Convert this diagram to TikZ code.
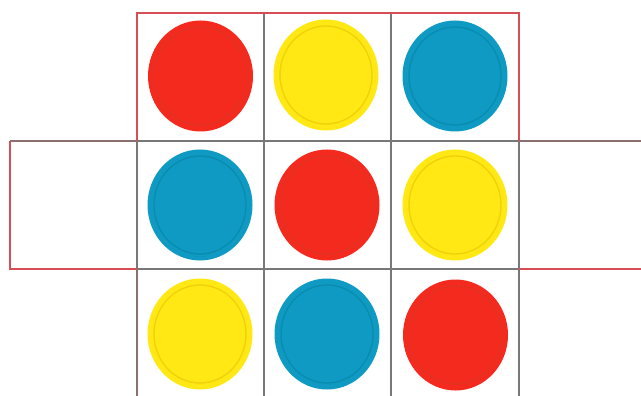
\documentclass[tikz,border=0pt]{standalone}
\usetikzlibrary{shapes.geometric}
\definecolor{cred}{RGB}{244,42,30}
\definecolor{credr}{RGB}{226,50,34}
\definecolor{cyel}{RGB}{255,232,20}
\definecolor{cyelr}{RGB}{240,210,10}
\definecolor{cblu}{RGB}{14,154,194}
\definecolor{cblur}{RGB}{10,140,176}
\definecolor{gridgray}{RGB}{120,120,120}
\definecolor{frame}{RGB}{214,78,86}
\definecolor{mixed}{RGB}{140,112,112}
\begin{document}
\begin{tikzpicture}[x=1pt,y=-1pt,
  disc/.style={ellipse, minimum width=105pt, minimum height=111pt, inner sep=0pt},
  discR/.style={disc, fill=cred, path picture={\draw[credr, line width=1.4pt] (path picture bounding box.center) ellipse (46pt and 49pt);}},
  discY/.style={disc, fill=cyel, path picture={\draw[cyelr, line width=1.4pt] (path picture bounding box.center) ellipse (46pt and 49pt);}},
  discB/.style={disc, fill=cblu, path picture={\draw[cblur, line width=1.4pt] (path picture bounding box.center) ellipse (46pt and 49pt);}},
  gline/.style={draw=gridgray, line width=1.3pt},
  rline/.style={draw=frame, line width=1.4pt},
  mline/.style={draw=mixed, line width=1.4pt}]
\useasboundingbox (0,0) rectangle (641,396);
\fill[white] (0,0) rectangle (641,396);
% corner coordinates
\coordinate (a0) at (137,13);  \coordinate (a3) at (519,13);
\coordinate (l1) at (10,141);  \coordinate (l2) at (10,269);
\coordinate (r1) at (641,141); \coordinate (r2) at (641,269);
\coordinate (b0) at (137,396); \coordinate (b1) at (264,396);
\coordinate (b2) at (391,396); \coordinate (b3) at (519,396);
\coordinate (t1) at (264,13);  \coordinate (t2) at (391,13);
\coordinate (p0) at (137,141); \coordinate (p3) at (519,141);
\coordinate (q0) at (137,269); \coordinate (q3) at (519,269);
% discs
\node[discR] (c11) at (200.5,76) {};
\node[discY] (c12) at (326,75) {};
\node[discB] (c13) at (455,76) {};
\node[discB] (c21) at (200,205) {};
\node[discR] (c22) at (327,205) {};
\node[discY] (c23) at (455,205) {};
\node[discY] (c31) at (200,334) {};
\node[discB] (c32) at (327,334) {};
\node[discR] (c33) at (455.5,335) {};
% grid lines
\draw[gline] (t1) -- (b1);
\draw[gline] (t2) -- (b2);
\draw[gline] (p0) -- (p3);
\draw[gline] (q0) -- (q3);
\draw[gline] (p0) -- (q0);
\draw[gline] (p3) -- (q3);
\draw[gline] (q3) -- (b3);
\draw[mline] (q0) -- (b0);
\draw[mline] (l1) -- (p0);
\draw[mline] (p3) -- (r1);
% red frame
\draw[rline] (p0) -- (a0) -- (a3) -- (p3);
\draw[rline] (l1) -- (l2) -- (q0);
\draw[rline] (q3) -- (r2);
\end{tikzpicture}
\end{document}
